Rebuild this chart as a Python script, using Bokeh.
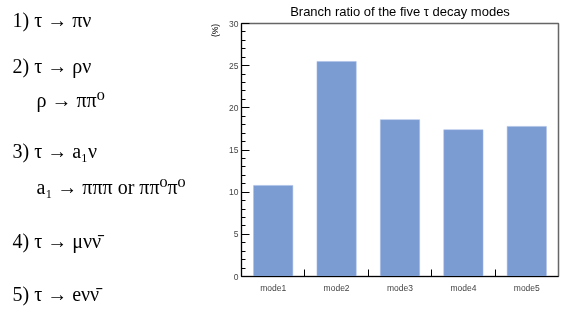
import numpy as np
from bokeh.plotting import figure
from bokeh.models import Range1d, FixedTicker, SingleIntervalTicker
from bokeh.core.properties import value
from bokeh.embed import file_html
from bokeh.resources import INLINE

modes = ["mode1", "mode2", "mode3", "mode4", "mode5"]
ratios = [10.8, 25.5, 18.6, 17.4, 17.8]
title_text = "Branch ratio of the five \u03c4 decay modes"
unit_text = "(%)"
decay_lines = [
    "1) \u03c4 \u2192 \u03c0\u03bd",
    "2) \u03c4 \u2192 \u03c1\u03bd",
    "\u03c1 \u2192 \u03c0\u03c0\u2070",
    "3) \u03c4 \u2192 a\u2081\u03bd",
    "a\u2081 \u2192 \u03c0\u03c0\u03c0 or \u03c0\u03c0\u2070\u03c0\u2070",
    "4) \u03c4 \u2192 \u03bc\u03bd\u03bd\u0304",
    "5) \u03c4 \u2192 e\u03bd\u03bd\u0304",
]

W, H = 566, 309
FL, FR, FT, FB = 241, 558, 23, 276  # frame edges in page pixels

# ---------------- chart ----------------
p = figure(width=W, height=H, output_backend="svg", toolbar_location=None,
           x_range=Range1d(0, len(modes)), y_range=Range1d(0, 30),
           min_border_left=FL, min_border_right=W - FR,
           min_border_top=FT, min_border_bottom=H - FB)
p.styles = {"position": "fixed", "top": "0px", "left": "0px"}
p.xgrid.visible = False
p.ygrid.visible = False
p.outline_line_color = "#666666"
p.outline_line_width = 1.5

x = np.arange(len(modes)) + 0.5
p.vbar(x=x, top=ratios, width=0.62, bottom=0, fill_color="#7b9bd3",
       line_color="#a9bde6", line_width=0.5)

ya = p.yaxis[0]
ya.ticker = SingleIntervalTicker(interval=5, num_minor_ticks=5)
ya.major_tick_in = 8
ya.major_tick_out = 0
ya.minor_tick_in = 4
ya.minor_tick_out = 0
ya.axis_line_color = "black"
ya.major_tick_line_color = "black"
ya.minor_tick_line_color = "black"
ya.major_label_text_font = "Liberation Sans"
ya.major_label_text_font_size = "8.5px"
ya.major_label_standoff = 3

xa = p.xaxis[0]
xa.ticker = FixedTicker(ticks=list(x), minor_ticks=list(range(1, len(modes))))
xa.major_label_overrides = {float(v): m for v, m in zip(x, modes)}
xa.major_tick_in = 0
xa.major_tick_out = 0
xa.minor_tick_in = 7
xa.minor_tick_out = 0
xa.axis_line_color = "black"
xa.minor_tick_line_color = "black"
xa.major_label_text_font = "Liberation Sans"
xa.major_label_text_font_size = "8.5px"
xa.major_label_standoff = 6

# ---------------- transparent text overlay (page-pixel coordinates) ----------------
q = figure(width=W, height=H, output_backend="svg", toolbar_location=None,
           x_range=Range1d(0, W), y_range=Range1d(H, 0),
           x_axis_type=None, y_axis_type=None,
           min_border=0, min_border_left=0, min_border_right=0,
           min_border_top=0, min_border_bottom=0)
q.styles = {"position": "fixed", "top": "0px", "left": "0px", "pointer-events": "none"}
q.background_fill_alpha = 0
q.border_fill_alpha = 0
q.outline_line_color = None
q.xgrid.visible = False
q.ygrid.visible = False

q.text(x=[(FL + FR) / 2], y=[11], text=[title_text], text_font=value("Liberation Sans"),
       text_font_size="13px", text_align="center", text_baseline="alphabetic",
       text_color="black")
q.text(x=[214], y=[30], text=[unit_text], text_font=value("Liberation Sans"),
       text_font_size="8.5px", text_align="center", text_baseline="middle",
       angle=np.pi / 2, text_color="black")

lx = [12, 12, 36, 12, 36, 12, 12]
ly = [19, 65, 99, 150, 186, 240, 293]
q.text(x=lx, y=ly, text=decay_lines,
       text_font=value("Liberation Serif, DejaVu Serif, serif"),
       text_font_size="20px", text_align="left", text_baseline="alphabetic",
       text_color="black")

open("out.html", "w").write(file_html([p, q], INLINE))
